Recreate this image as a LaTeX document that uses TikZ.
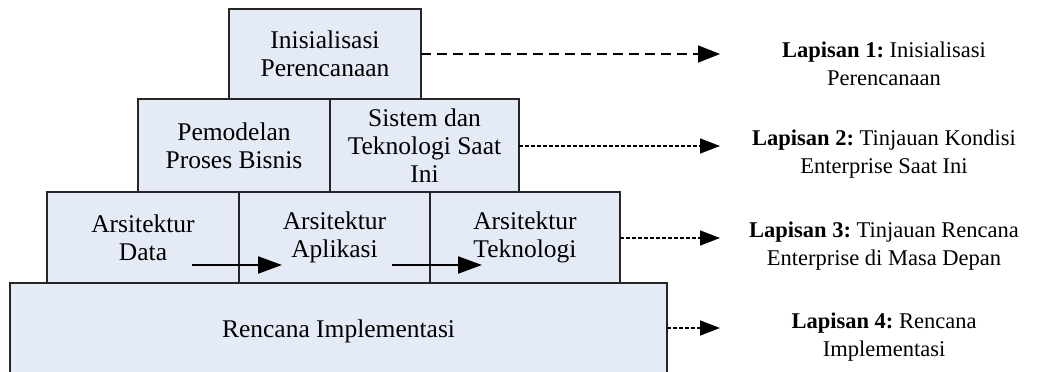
\documentclass[tikz,border=0pt]{standalone}
\usepackage{fontspec}
\setmainfont{Liberation Serif}
\usepackage{xcolor}
\usepackage{tikz}
\usetikzlibrary{arrows.meta, positioning, calc}
\frenchspacing
\definecolor{layerfill}{RGB}{228,235,246}
\tikzset{
  layerbox/.style={draw=black!85, line width=2pt, fill=layerfill, rectangle,
    anchor=north west, inner sep=0pt, outer sep=0pt, align=center,
    font=\fontsize{25.5}{28}\selectfont},
  notelabel/.style={align=center, inner sep=0pt, font=\fontsize{22.5}{28}\selectfont},
  longdash/.style={line width=1.6pt, dash pattern=on 10pt off 6pt,
    -{Triangle[length=22pt, width=17pt]}},
  shortdash/.style={line width=1.6pt, dash pattern=on 4pt off 2pt,
    -{Triangle[length=20pt, width=15pt]}},
  flowarrow/.style={line width=2.2pt, -{Triangle[length=24pt, width=17pt]}}
}
\begin{document}
\begin{tikzpicture}[x=1pt, y=-1pt]
  % Frame of the picture (pixel units, y down)
  \clip (0,0) rectangle (1037,372);
  % Layer 1
  \node[layerbox, minimum width=192pt, minimum height=90pt] (init) at (229,9)
    {Inisialisasi\\Perencanaan};
  % Layer 2
  \node[layerbox, minimum width=192pt, minimum height=93pt] (bpm) at (138,99)
    {Pemodelan\\Proses Bisnis};
  \node[layerbox, minimum width=189pt, minimum height=93pt] (curtech) at (330,99)
    {Sistem dan\\Teknologi Saat\\Ini};
  % Layer 3
  \node[layerbox, minimum width=192pt, minimum height=91pt] (adata) at (47,192)
    {Arsitektur\\Data};
  \node[layerbox, minimum width=191pt, minimum height=91pt] (aapp) at (239,192)
    {Arsitektur\\Aplikasi};
  \node[layerbox, minimum width=190pt, minimum height=91pt] (atech) at (430,192)
    {Arsitektur\\Teknologi};
  % Layer 4 (bottom edge runs past the frame)
  \node[layerbox, minimum width=657pt, minimum height=96pt] (plan) at (10,283)
    {Rencana Implementasi};
  % Flow inside layer 3
  \coordinate (d1) at (192,265);
  \coordinate (d2) at (282,265);
  \coordinate (a1) at (392,265);
  \coordinate (a2) at (482,265);
  \draw[flowarrow] (d1) -- (d2);
  \draw[flowarrow] (a1) -- (a2);
  % Arrow ends
  \coordinate (e1) at (720,54);
  \coordinate (e2) at (720,146);
  \coordinate (e3) at (720,238);
  \coordinate (e4) at (720,328);
  \draw[longdash] (init.east) -- (e1);
  \foreach \s/\t in {curtech/e2, atech/e3, plan/e4} {
    \draw[shortdash] (\s.east |- \t) -- (\t);
  }
  % Layer descriptions
  \node[notelabel] (l1) at (884,64) {\textbf{Lapisan 1:} Inisialisasi\\Perencanaan};
  \node[notelabel] (l2) at (884,154) {\textbf{Lapisan 2:} Tinjauan Kondisi\\Enterprise Saat Ini};
  \node[notelabel] (l3) at (884,246) {\textbf{Lapisan 3:} Tinjauan Rencana\\Enterprise di Masa Depan};
  \node[notelabel] (l4) at (884,337) {\textbf{Lapisan 4:} Rencana\\Implementasi};
\end{tikzpicture}
\end{document}
